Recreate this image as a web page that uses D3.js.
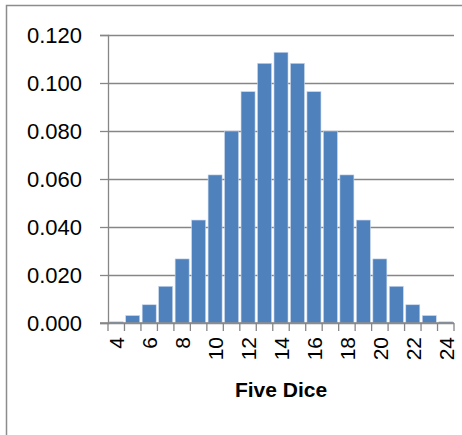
<!DOCTYPE html>
<html>
<head>
<meta charset="utf-8">
<script src="https://cdn.jsdelivr.net/npm/d3@7"></script>
<style>
  body { margin: 0; background: #fff; }
  svg { display: block; }
</style>
</head>
<body>
<div id="chart"></div>
<script>
// sum of five dice, probability for each total
let sums = [4, 5, 6, 7, 8, 9, 10, 11, 12, 13, 14, 15, 16, 17, 18, 19, 20, 21, 22, 23, 24]
let probs = [0.0005, 0.0031, 0.0076, 0.0153, 0.0267, 0.0429, 0.0617, 0.0800, 0.0964, 0.1082, 0.1128,
	0.1082, 0.0964, 0.0800, 0.0617, 0.0429, 0.0267, 0.0153, 0.0076, 0.0031, 0.0005]
let yTicks = [0, 0.02, 0.04, 0.06, 0.08, 0.1, 0.12]
let xTitle = 'Five Dice'

let width = 462
let height = 435
let plotLeft = 108
let plotRight = 454
let plotTop = 35
let plotBottom = 323

let data = sums.map((s, i) => ({'sum': s, 'p': probs[i]}))

const svg = d3.select('#chart')
	.append('svg')
	.attr('width', width)
	.attr('height', height)

// outer chart border (runs off right and bottom edge)
svg.append('rect')
	.attr('x', 6.5)
	.attr('y', 5.5)
	.attr('width', 470)
	.attr('height', 450)
	.attr('fill', 'none')
	.attr('stroke', '#8c8c8c')
	.attr('stroke-width', 1.5)

let x = d3.scaleBand()
	.domain(sums)
	.range([plotLeft, plotRight])
	.paddingInner(0.15)
	.paddingOuter(0.075)

let y = d3.scaleLinear()
	.domain([0, 0.12])
	.range([plotBottom, plotTop])

// gridlines + y ticks
let yAxis = g => g.attr('transform', `translate(${plotLeft},0)`)
	.call(d3.axisLeft(y).tickValues(yTicks).tickFormat(d3.format('.3f')).tickSize(8).tickPadding(18))
	.call(g => g.select('.domain').attr('stroke', '#868686').attr('stroke-width', 1.3))
	.call(g => g.selectAll('.tick line').attr('stroke', '#868686').attr('stroke-width', 1.3))
	.call(g => g.selectAll('.tick line.grid').remove())
	.call(g => g.selectAll('.tick').append('line')
		.attr('class', 'grid')
		.attr('x1', 0)
		.attr('x2', plotRight - plotLeft)
		.attr('stroke', '#868686')
		.attr('stroke-width', 1.3))
	.call(g => g.selectAll('text')
		.attr('font-family', 'Liberation Sans, Arial, sans-serif')
		.attr('font-size', 22)
		.attr('fill', '#000'))

svg.append('g').call(yAxis)

// bars
svg.selectAll('.bar')
	.data(data)
	.enter()
	.append('rect')
	.attr('class', 'bar')
	.attr('x', d => x(d.sum))
	.attr('width', x.bandwidth())
	.attr('y', d => y(d.p))
	.attr('height', d => y(0) - y(d.p))
	.attr('fill', '#4f81bd')
	.attr('stroke', '#c9d7ea')
	.attr('stroke-width', 0.6)

// x axis: line, ticks between categories, rotated labels on even sums
let step = x.step()
let bounds = sums.map((s, i) => plotLeft + i * (plotRight - plotLeft) / sums.length)
bounds.push(plotRight)

let xg = svg.append('g')

xg.append('line')
	.attr('x1', plotLeft - 8)
	.attr('x2', plotRight)
	.attr('y1', plotBottom)
	.attr('y2', plotBottom)
	.attr('stroke', '#868686')
	.attr('stroke-width', 1.5)

xg.selectAll('.xtick')
	.data(bounds)
	.enter()
	.append('line')
	.attr('x1', d => d)
	.attr('x2', d => d)
	.attr('y1', plotBottom)
	.attr('y2', plotBottom + 8)
	.attr('stroke', '#868686')
	.attr('stroke-width', 1.3)

xg.selectAll('.xlabel')
	.data(sums.filter(s => s % 2 == 0))
	.enter()
	.append('text')
	.attr('transform', d => `translate(${x(d) + x.bandwidth() / 2 + 8},${plotBottom + 14}) rotate(-90)`)
	.attr('text-anchor', 'end')
	.attr('font-family', 'Liberation Sans, Arial, sans-serif')
	.attr('font-size', 21)
	.attr('fill', '#000')
	.text(d => d)

svg.append('text')
	.attr('x', (plotLeft + plotRight) / 2)
	.attr('y', 397)
	.attr('text-anchor', 'middle')
	.attr('font-family', 'Liberation Sans, Arial, sans-serif')
	.attr('font-weight', 'bold')
	.attr('font-size', 21)
	.attr('fill', '#000')
	.text(xTitle)
</script>
</body>
</html>
